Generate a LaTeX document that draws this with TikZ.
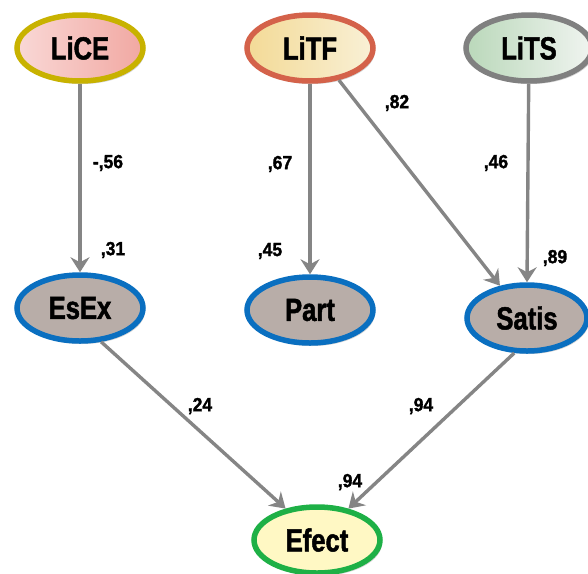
\documentclass[tikz,border=0pt]{standalone}
\usepackage{fontspec}
\setmainfont{Liberation Sans}[FakeStretch=0.8,FakeBold=1.5]
\newfontfamily\lblfont{Liberation Sans}[FakeStretch=0.92,FakeBold=1.5]
\usetikzlibrary{arrows.meta,shadows,shapes.geometric}
\definecolor{arrgray}{HTML}{858585}
\definecolor{blueb}{HTML}{0A6FC0}
\definecolor{greyfill}{HTML}{B8ADA8}
\tikzset{
  var/.style={ellipse, minimum width=126pt, minimum height=66pt, line width=5.5pt,
    font=\bfseries\fontsize{32}{33}\selectfont, inner sep=0pt,
    drop shadow={opacity=0.35, shadow xshift=2pt, shadow yshift=-3pt}},
  endo/.style={var, draw=blueb, fill=greyfill},
  path/.style={draw=arrgray, line width=3.4pt, -{Stealth[length=15pt,width=19pt,inset=5pt]}},
  lbl/.style={font=\lblfont\bfseries\fontsize{19}{20}\selectfont, inner sep=0pt}
}
\begin{document}
\begin{tikzpicture}[x=1pt,y=-1pt]
\useasboundingbox (0,0) rectangle (588,573);
\node[var, draw={rgb,255:red,200;green,178;blue,0}, left color={rgb,255:red,249;green,216;blue,214}, right color={rgb,255:red,241;green,168;blue,162}] (lice) at (80,48) {LiCE};
\node[var, draw={rgb,255:red,212;green,98;blue,74}, left color={rgb,255:red,243;green,218;blue,150}, right color={rgb,255:red,249;green,240;blue,214}] (litf) at (310,48) {LiTF};
\node[var, draw={rgb,255:red,128;green,128;blue,128}, left color={rgb,255:red,186;green,216;blue,186}, right color={rgb,255:red,240;green,244;blue,240}] (lits) at (529,48) {LiTS};
\node[endo] (esex) at (80,308) {EsEx};
\node[endo] (part) at (310,310) {Part};
\node[endo, minimum width=120pt] (satis) at (527,318) {Satis};
\node[var, draw={rgb,255:red,30;green,176;blue,70}, fill={rgb,255:red,255;green,248;blue,196}] (efect) at (317,540) {Efect};
\draw[path] (lice) -- (esex);
\draw[path] (litf) -- (part);
\draw[path] (litf.-48) -- (satis.130);
\draw[path] (lits) -- (satis.90);
\draw[path] (esex.-58) -- (efect.135);
\draw[path] (satis.-110) -- (efect.45);
\node[lbl] (l1) at (108,163) {-,56};
\node[lbl] (l2) at (113,250) {,31};
\node[lbl] (l3) at (280,164) {,67};
\node[lbl] (l4) at (270,251) {,45};
\node[lbl] (l5) at (397,103) {,82};
\node[lbl] (l6) at (496,163) {,46};
\node[lbl] (l7) at (555,258) {,89};
\node[lbl] (l8) at (200,406) {,24};
\node[lbl] (l9) at (421,406) {,94};
\node[lbl] (l10) at (350,482) {,94};
\end{tikzpicture}
\end{document}
